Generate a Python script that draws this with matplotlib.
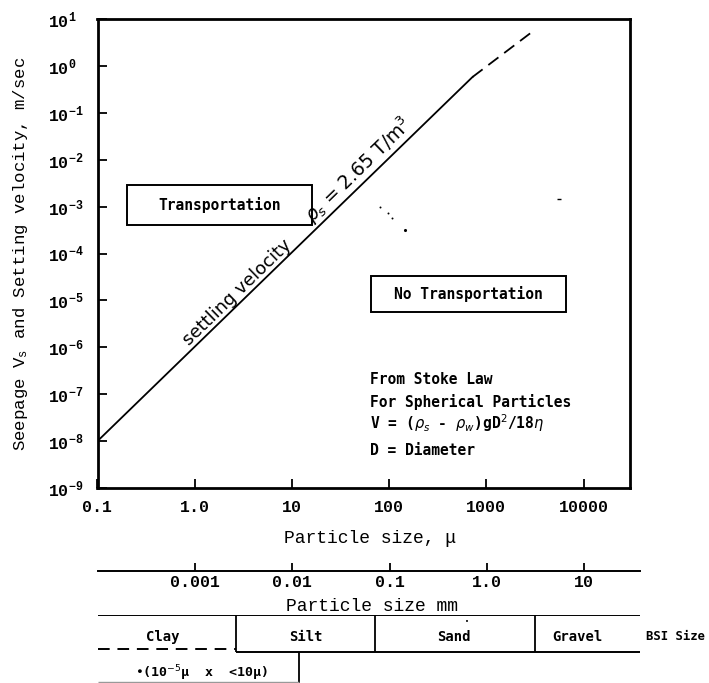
import numpy as np
import matplotlib
matplotlib.use("Agg")
import matplotlib.pyplot as plt
from matplotlib.patches import Rectangle
from matplotlib.ticker import FixedLocator, FixedFormatter, NullLocator

# Settling velocity from Stokes law, rho_s = 2.65 T/m^3
size_solid = [0.1, 720]        # particle size, micron
vel_solid = [1e-8, 0.58]       # m/sec
size_dashed = [720, 2840]      # extrapolated part
vel_dashed = [0.58, 5.0]

# loose specks on the sheet
speck_size = [144, 81, 98, 108, 5530]
speck_vel = [3.2e-4, 9.8e-4, 7.3e-4, 5.7e-4, 1.45e-3]

size_ticks = [0.1, 1, 10, 100, 1000, 10000]
size_tick_labels = ["0.1", "1.0", "10", "100", "1000", "10000"]
vel_exponents = list(range(-9, 2))
vel_tick_labels = [rf"$\mathdefault{{10^{{{e}}}}}$" for e in vel_exponents]

mm_ticks = [0.001, 0.01, 0.1, 1.0, 10]
mm_tick_labels = ["0.001", "0.01", "0.1", "1.0", "10"]

# BSI size classes, boundaries in mm
soil_classes = ["Clay", "Silt", "Sand", "Gravel"]
class_bounds_mm = [0.0026, 0.07, 3.1]
clay_note_edge_mm = 0.0116

stokes_notes = [
    "From Stoke Law",
    "For Spherical Particles",
    r"V = ($\rho_s$ - $\rho_w$)gD$^2$/18$\eta$",
    "D = Diameter",
]

plt.rcParams["font.family"] = ["Liberation Mono", "DejaVu Sans Mono"]
SANS = "DejaVu Sans"
PLOTTER = "DejaVu Sans Mono"

W, H = 709, 683
fig = plt.figure(figsize=(W / 100, H / 100), dpi=100)


def px_box(x0, y0, x1, y1):
    return [x0 / W, 1 - y1 / H, (x1 - x0) / W, (y1 - y0) / H]


# Main log-log chart
ax = fig.add_axes(px_box(97.5, 19, 630, 488))
ax.set_xscale("log")
ax.set_yscale("log")
ax.set_xlim(0.1, 3.0e4)
ax.set_ylim(1e-9, 10)

ax.plot(size_solid, vel_solid, color="black", lw=1.3)
ax.plot(size_dashed, vel_dashed, color="black", lw=1.3, ls=(0, (7, 4)))
ax.scatter(speck_size[:1], speck_vel[:1], s=5, color="black", lw=0)
ax.scatter(speck_size[1:4], speck_vel[1:4], s=2, color="black", lw=0)
ax.scatter(speck_size[4:], speck_vel[4:], s=12, marker="_", color="black", lw=1)

for side in ["left", "right", "top", "bottom"]:
    ax.spines[side].set_linewidth(2.0)

ax.xaxis.set_major_locator(FixedLocator(size_ticks))
ax.xaxis.set_major_formatter(FixedFormatter(size_tick_labels))
ax.yaxis.set_major_locator(FixedLocator([10.0 ** e for e in vel_exponents]))
ax.yaxis.set_major_formatter(FixedFormatter(vel_tick_labels))
ax.xaxis.set_minor_locator(NullLocator())
ax.yaxis.set_minor_locator(NullLocator())
ax.tick_params(axis="x", direction="in", length=6.5, width=1.3, labelsize=12, pad=9)
ax.tick_params(axis="y", direction="in", length=6.5, width=1.3, labelsize=12, pad=35.5)
for lbl in ax.get_yticklabels():
    lbl.set_horizontalalignment("left")
    lbl.set_fontweight("bold")
for lbl in ax.get_xticklabels():
    lbl.set_fontweight("bold")

ax.set_xlabel("Particle size, \u03bc", fontsize=13)
ax.xaxis.set_label_coords(0.512, -0.107)
ax.xaxis.label.set_va("center")
ax.set_ylabel(r"Seepage $\mathdefault{V_s}$ and Setting velocity, m/sec", fontsize=12.5)
ax.yaxis.set_label_coords(-0.145, 0.5)
ax.yaxis.label.set_va("center")

# Labels running along the settling velocity line
p0 = ax.transData.transform((size_solid[0], vel_solid[0]))
p1 = ax.transData.transform((size_solid[1], vel_solid[1]))
angle = np.degrees(np.arctan2(p1[1] - p0[1], p1[0] - p0[0]))


def on_line(d):
    return 10 ** np.interp(np.log10(d), np.log10(size_solid), np.log10(vel_solid))


ax.text(3.2, on_line(3.2), "settling velocity", family=SANS, fontsize=13,
        rotation=angle, rotation_mode="anchor", ha="center", va="bottom")
ax.text(60, on_line(60), r"$\rho_s$ = 2.65 T/m$^3$", family=SANS, fontsize=13.5,
        rotation=angle, rotation_mode="anchor", ha="center", va="bottom")

# Region boxes
for (x0, x1, y0, y1), label in [((0.0554, 0.4028, 0.5608, 0.646), "Transportation"),
                                 ((0.5136, 0.8798, 0.3753, 0.452), "No Transportation")]:
    ax.add_patch(Rectangle((x0, y0), x1 - x0, y1 - y0, transform=ax.transAxes,
                           fill=False, lw=1.4, ec="black"))
    ax.text((x0 + x1) / 2, (y0 + y1) / 2, label, transform=ax.transAxes,
            family=PLOTTER, fontsize=10.5, fontweight="bold", ha="center", va="center")

for i, note in enumerate(stokes_notes):
    y = [0.2303, 0.1834, 0.1386, 0.081][i]
    ax.text(0.5117, y, note, transform=ax.transAxes, family=PLOTTER,
            fontsize=10.5, fontweight="bold", ha="left", va="center")

# Particle size in mm, same log scale as the micron axis
w_main, w_mm = 630 - 97.5, 640 - 98
span = np.log10(3.0e4 / 0.1) * w_mm / w_main
mm_lim = (0.1 / 1000, 0.1 / 1000 * 10 ** span)

ax_mm = fig.add_axes(px_box(98, 560, 640, 571))
ax_mm.set_xscale("log")
ax_mm.set_xlim(*mm_lim)
ax_mm.set_ylim(0, 1)
for side in ["left", "right", "top"]:
    ax_mm.spines[side].set_visible(False)
ax_mm.spines["bottom"].set_linewidth(1.4)
ax_mm.set_yticks([])
ax_mm.xaxis.set_major_locator(FixedLocator(mm_ticks))
ax_mm.xaxis.set_major_formatter(FixedFormatter(mm_tick_labels))
ax_mm.xaxis.set_minor_locator(NullLocator())
ax_mm.tick_params(axis="x", direction="in", length=6, width=1.3, labelsize=12, pad=3)
for lbl in ax_mm.get_xticklabels():
    lbl.set_fontweight("bold")
ax_mm.patch.set_visible(False)
ax_mm.set_xlabel("Particle size mm", fontsize=13)
ax_mm.xaxis.set_label_coords(0.505, -3.25)
ax_mm.xaxis.label.set_va("center")

# BSI classification strip
ax_t = fig.add_axes(px_box(98, 615, 640, 683), sharex=ax_mm)
ax_t.set_ylim(0, 1)
ax_t.axis("off")
lo, hi = mm_lim
row_bot = 0.456
ax_t.hlines(1.0, lo, hi, color="black", lw=1.4)
ax_t.vlines(class_bounds_mm, row_bot, 1.0, color="black", lw=1.3)
ax_t.hlines(row_bot, class_bounds_mm[0], hi, color="black", lw=1.4)
ax_t.hlines(0.5, lo, class_bounds_mm[0], color="black", lw=1.4, linestyles=(0, (6, 4)))
ax_t.vlines(clay_note_edge_mm, 0, row_bot, color="black", lw=1.3)
ax_t.hlines(0.01, lo, clay_note_edge_mm, color="0.6", lw=1.0)

label_x = [0.00046, 0.0137, 0.46, 8.5]
for x, name in zip(label_x, soil_classes):
    ax_t.text(x, 0.676, name, family=PLOTTER, fontsize=10, fontweight="bold",
              ha="center", va="center")
ax_t.annotate("\u2022", (label_x[2], 0.676), xytext=(9, 11), textcoords="offset points",
              fontsize=5, family=SANS, ha="center", va="center")
ax_t.text(0.00115, 0.147, "\u2022(10$^{-5}$\u03bc  x  <10\u03bc)", family=PLOTTER,
          fontsize=9.5, fontweight="bold", ha="center", va="center")
fig.text(646 / W, 1 - 637 / H, "BSI Size", family=PLOTTER, fontsize=8.8,
         fontweight="bold", ha="left", va="center")

fig.savefig("out.png", dpi=100)
